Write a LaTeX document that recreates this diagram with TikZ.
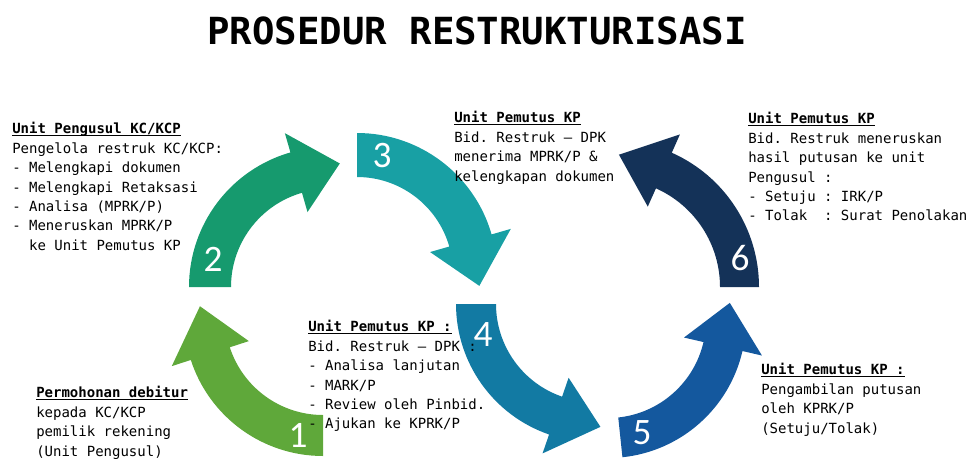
\documentclass[tikz,border=0pt]{standalone}
\usepackage{fontspec}
\setmonofont{DejaVu Sans Mono}
\newfontfamily\numfont{Carlito}
\usetikzlibrary{calc}
\usetikzlibrary{positioning}
\definecolor{arrA}{RGB}{95,168,58}
\definecolor{arrB}{RGB}{22,154,110}
\definecolor{arrC}{RGB}{24,160,164}
\definecolor{arrD}{RGB}{18,122,163}
\definecolor{arrE}{RGB}{20,88,158}
\definecolor{arrF}{RGB}{20,50,88}
% centre, start, neck, tip angle, inner r, outer r, colour
\newcommand{\cycarrow}[7]{%
  \fill[#7] ($(#1)+(#2:#6)$) arc[start angle=#2, end angle=#3, radius=#6]
    -- ($(#1)+(#3:{#6+20})$) -- ($(#1)+(#4:{(#5+#6)/2+5})$)
    -- ($(#1)+(#3:{#5-20})$) -- ($(#1)+(#3:#5)$)
    arc[start angle=#3, end angle=#2, radius=#5] -- cycle;}
\newcommand{\hd}[1]{\underline{\raisebox{0pt}[\height][0pt]{\textbf{#1}}}}

\begin{document}
\begin{tikzpicture}[x=0.75pt,y=-0.75pt]
\tikzstyle{info}=[anchor=north west,inner sep=0pt,align=left,font=\ttfamily\fontsize{10.5}{14.6}\selectfont]
\tikzstyle{num}=[text=white,inner sep=0pt,font=\numfont\fontsize{28}{28}\selectfont]
\useasboundingbox (0,0) rectangle (966,460);

% centres of the arcs
\coordinate (c1) at (323,317);
\coordinate (c2) at (329,287);
\coordinate (c3) at (357,273);
\coordinate (c4) at (594,304);
\coordinate (c5) at (608,320);
\coordinate (c6) at (612,287);

\cycarrow{c1}{90}{162}{185}{98}{139}{arrA}
\cycarrow{c2}{-180}{-106}{-85}{98}{140}{arrB}
\cycarrow{c3}{-90}{-16}{6}{96}{140}{arrC}
\cycarrow{c4}{-180}{-251}{-273}{98}{138}{arrD}
\cycarrow{c5}{84}{13}{-8}{98}{138}{arrE}
\cycarrow{c6}{0}{-66}{-87}{108}{147}{arrF}

\node[num] (n1) at (298,435) {1};
\node[num] (n2) at (213,259) {2};
\node[num] (n3) at (382,156) {3};
\node[num] (n4) at (483,335) {4};
\node[num] (n5) at (642,433) {5};
\node[num] (n6) at (740,258) {6};

\node[font=\ttfamily\bfseries\fontsize{28}{28}\selectfont] (title) at (477,31) {PROSEDUR RESTRUKTURISASI};

\node[info] (pengusul) at (12,122) {\hd{Unit Pengusul KC/KCP}\\
Pengelola restruk KC/KCP:\\
- Melengkapi dokumen\\
- Melengkapi Retaksasi\\
- Analisa (MPRK/P)\\
- Meneruskan MPRK/P\\
\phantom{xx}ke Unit Pemutus KP};
\node[info] (terima) at (454,111) {\hd{Unit Pemutus KP}\\
Bid. Restruk – DPK\\
menerima MPRK/P \&\\
kelengkapan dokumen};
\node[info] (hasil) at (748,112) {\hd{Unit Pemutus KP}\\
Bid. Restruk meneruskan\\
hasil putusan ke unit\\
Pengusul :\\
- Setuju : IRK/P\\
- Tolak\ \ : Surat Penolakan};
\node[info] (analisa) at (308,320) {\hd{Unit Pemutus KP :}\\
Bid. Restruk – DPK :\\
- Analisa lanjutan\\
- MARK/P\\
- Review oleh Pinbid.\\
- Ajukan ke KPRK/P};
\node[info] (debitur) at (36,386) {\hd{Permohonan debitur}\\
kepada KC/KCP\\
pemilik rekening\\
(Unit Pengusul)};
\node[info] (putusan) at (761,363) {\hd{Unit Pemutus KP :}\\
Pengambilan putusan\\
oleh KPRK/P\\
(Setuju/Tolak)};
\end{tikzpicture}
\end{document}
